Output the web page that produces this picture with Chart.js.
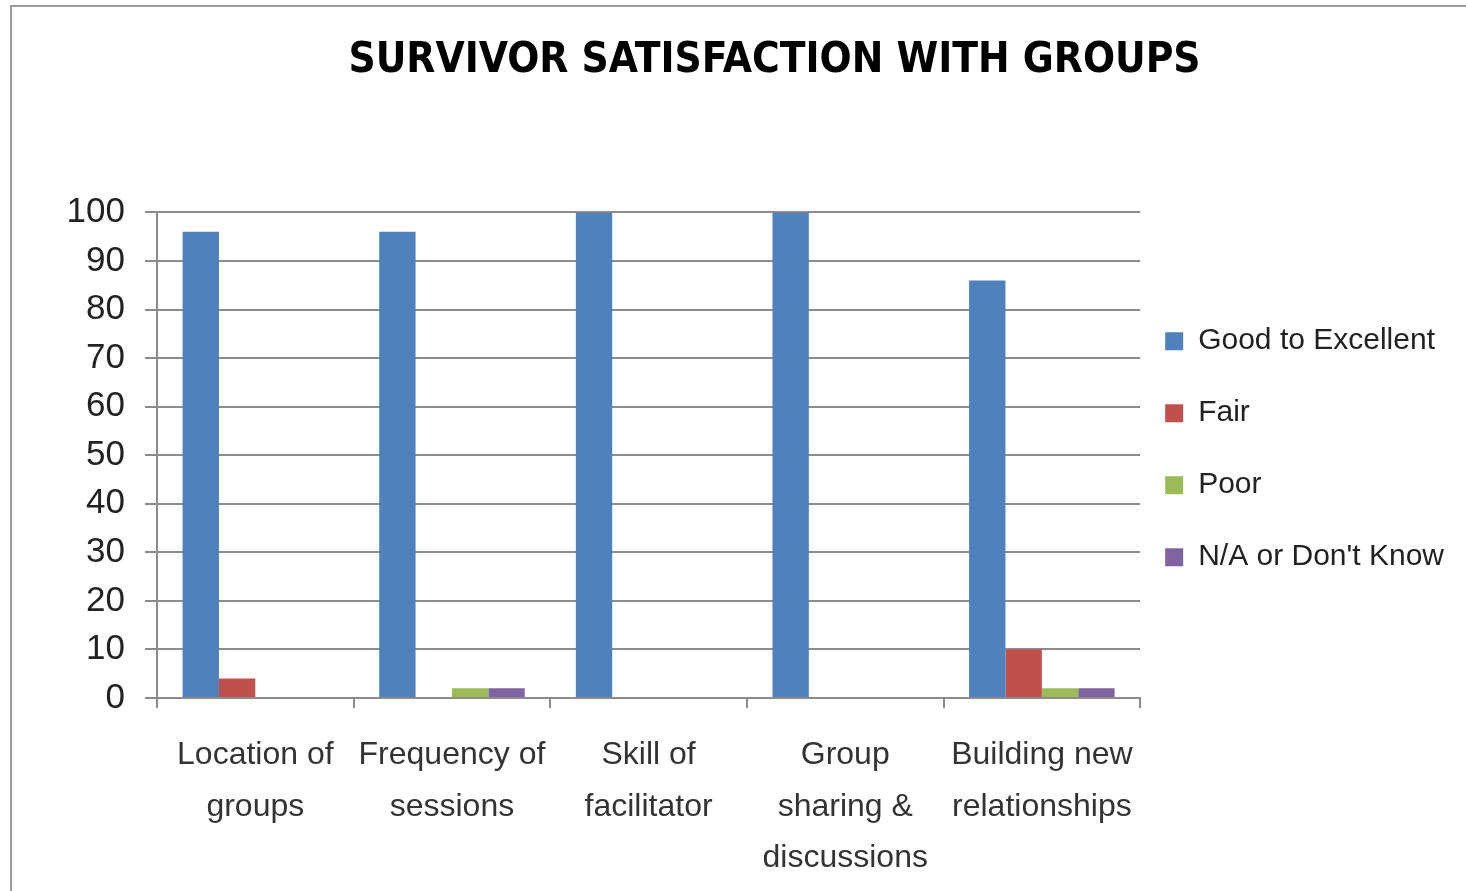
<!DOCTYPE html>
<html>
<head>
<meta charset="utf-8">
<script src="https://cdn.jsdelivr.net/npm/chart.js@4.4.1/dist/chart.umd.min.js"></script>
<style>
  html, body { margin: 0; padding: 0; background: #fff; }
  #frame { position: absolute; left: 10px; top: 5px; width: 1500px; height: 950px;
           border-left: 2px solid #9a9a9a; border-top: 2px solid #9a9a9a; }
  #wrap { position: absolute; left: 0; top: 0; width: 1466px; height: 891px; }
</style>
</head>
<body>
<div id="frame"></div>
<div id="wrap"><canvas id="chart-canvas" width="1466" height="891"></canvas></div>
<script>
// Datos
const categories = [
    ['Location of', 'groups'],
    ['Frequency of', 'sessions'],
    ['Skill of', 'facilitator'],
    ['Group', 'sharing &', 'discussions'],
    ['Building new', 'relationships']
];
const seriesNames = ['Good to Excellent', 'Fair', 'Poor', "N/A or Don't Know"];
const goodValues = [96, 96, 100, 100, 86];
const fairValues = [4, 0, 0, 0, 10];
const poorValues = [0, 2, 0, 0, 2];
const naValues = [0, 2, 0, 0, 2];
const yTicks = [0, 10, 20, 30, 40, 50, 60, 70, 80, 90, 100];

const colors = ['#4F81BD', '#C0504D', '#9BBB59', '#8064A2'];
const font = "'Liberation Sans', 'DejaVu Sans', sans-serif";

// Ajusta leyenda y título como en el original
const boxShift = {
    id: 'boxShift',
    afterLayout(chart){
        const lg = chart.legend;
        lg.left -= 17; lg.right -= 17;
        lg.top -= 6; lg.bottom -= 6;
        const t = chart.titleBlock;
        if (t) { t.left += 39; t.right += 39; }
    }
};

function createSatisfactionChart(){
    const ctx = document.getElementById('chart-canvas').getContext('2d');
    const values = [goodValues, fairValues, poorValues, naValues];

    new Chart(ctx, {
        type: 'bar',
        data: {
            labels: categories,
            datasets: seriesNames.map((name, i) => ({
                label: name,
                data: values[i],
                backgroundColor: colors[i],
                borderWidth: 0,
                categoryPercentage: 0.74,
                barPercentage: 1.0
            }))
        },
        options: {
            responsive: false,
            animation: false,
            layout: { padding: { left: 0, right: -5, top: 0, bottom: 0 } },
            scales: {
                x: {
                    grid: {
                        offset: true,
                        drawOnChartArea: false,
                        drawTicks: true,
                        tickLength: 10,
                        color: '#8c8c8c',
                        lineWidth: 2
                    },
                    border: { color: '#8c8c8c', width: 2 },
                    ticks: {
                        color: '#333',
                        padding: 22,
                        maxRotation: 0,
                        autoSkip: false,
                        font: { family: font, size: 32, lineHeight: 1.6 }
                    },
                    afterFit: function(scale){ scale.height = 891 - 698; }
                },
                y: {
                    min: 0,
                    max: 100,
                    afterBuildTicks: function(scale){
                        scale.ticks = yTicks.map(v => ({ value: v }));
                    },
                    grid: {
                        color: '#8c8c8c',
                        lineWidth: 2,
                        tickLength: 12
                    },
                    border: { color: '#8c8c8c', width: 2 },
                    ticks: {
                        color: '#222',
                        padding: 20,
                        font: { family: font, size: 35 }
                    },
                    afterFit: function(scale){ scale.width = 157; }
                }
            },
            plugins: {
                title: {
                    display: true,
                    text: 'SURVIVOR SATISFACTION WITH GROUPS',
                    color: '#000',
                    font: { family: "'Liberation Sans Narrow', 'DejaVu Sans Condensed', sans-serif", size: 42, weight: 'bold', lineHeight: 1.2 },
                    padding: { top: 36, bottom: 126 }
                },
                legend: {
                    position: 'right',
                    fullSize: false,
                    labels: {
                        color: '#222',
                        boxWidth: 18,
                        boxHeight: 18,
                        padding: 42,
                        font: { family: font, size: 30 }
                    }
                },
                tooltip: { enabled: false }
            }
        },
        plugins: [boxShift]
    });
}

createSatisfactionChart();
</script>
</body>
</html>
